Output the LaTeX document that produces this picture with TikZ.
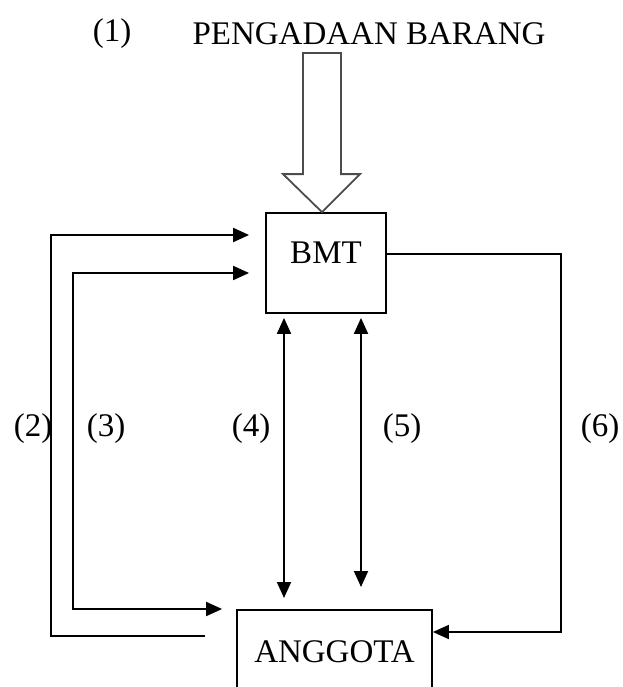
\documentclass[tikz,border=0pt]{standalone}
\usepackage{fontspec}
\setmainfont{Liberation Serif}
\usetikzlibrary{arrows.meta,calc}
\begin{document}
\begin{tikzpicture}[x=1pt,y=-1pt,
  every node/.style={font=\fontsize{33}{39}\selectfont},
  box/.style={draw,line width=1.8pt,inner sep=0pt},
  conn/.style={line width=1.9pt,black},
  tip/.style={-{Triangle[length=16pt,width=14pt]}},
  dtip/.style={{Triangle[length=16pt,width=14pt]}-{Triangle[length=16pt,width=14pt]}},
  blk/.style={draw=black!70,line width=1.8pt,line join=miter},
  lbl/.style={inner sep=0pt}]
\useasboundingbox (0,0) rectangle (622,687);
\clip (0,0) rectangle (622,687);
% nodes
\node[box,minimum width=120pt,minimum height=100pt,text depth=20pt] (bmt) at (326,263) {BMT};
\node[box,minimum width=195pt,minimum height=84pt,anchor=north] (ang) at (334.5,609) {ANGGOTA};
% labels
\node[lbl] (l1) at (112,34) {(1)};
\node[lbl] (title) at (369,34) {PENGADAAN BARANG};
\node[lbl] (l2) at (33,429) {(2)};
\node[lbl] (l3) at (106,429) {(3)};
\node[lbl] (l4) at (251,429) {(4)};
\node[lbl] (l5) at (402,429) {(5)};
\node[lbl] (l6) at (600,429) {(6)};
% helper coordinates
\coordinate (y2) at (0,235);
\coordinate (y3) at (0,273);
\coordinate (y6) at (0,254);
\coordinate (y6b) at (0,632);
\coordinate (x4) at (284,0);
\coordinate (x5) at (361,0);
\coordinate (c2) at (205,636);
% block arrow (1)
\coordinate (tipA) at ($(bmt.north)+(-4,0)$);
\draw[blk] ($(tipA)+(-19,-159)$) -- ($(tipA)+(19,-159)$) -- ($(tipA)+(19,-38)$)
  -- ($(tipA)+(38,-38)$) -- (tipA) -- ($(tipA)+(-39,-38)$) -- ($(tipA)+(-19,-38)$) -- cycle;
% (2)
\draw[conn,tip,shorten >=16pt] (c2) -- (51,636) -- (51,235) -- (bmt.west |- y2);
% (3)
\draw[conn,dtip,shorten <=16pt,shorten >=14pt] (bmt.west |- y3) -- (73,273) -- (73,609) -- (ang.north west);
% (4) and (5)
\draw[conn,dtip,shorten <=4pt,shorten >=11pt] (bmt.south -| x4) -- (ang.north -| x4);
\draw[conn,dtip,shorten <=4pt,shorten >=22pt] (bmt.south -| x5) -- (ang.north -| x5);
% (6)
\draw[conn,tip] (bmt.east |- y6) -- (561,254) -- (561,632) -- (ang.east |- y6b);
\end{tikzpicture}
\end{document}
